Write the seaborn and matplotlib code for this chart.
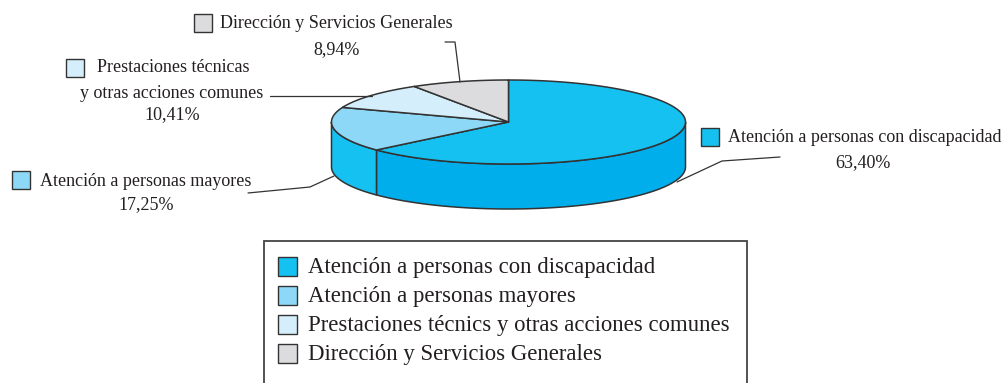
import numpy as np
import matplotlib
matplotlib.use("Agg")
import matplotlib.pyplot as plt
from matplotlib.patches import Polygon, Rectangle
import seaborn as sns

sns.set_theme(style="white")
plt.rcParams["font.family"] = ["Liberation Serif", "DejaVu Serif"]

# Budget shares (percent), clockwise from 12 o'clock
categories = [
    "Atención a personas con discapacidad",
    "Atención a personas mayores",
    "Prestaciones técnicas\ny otras acciones comunes",
    "Dirección y Servicios Generales",
]
legend_labels = [
    "Atención a personas con discapacidad",
    "Atención a personas mayores",
    "Prestaciones técnics y otras acciones comunes",
    "Dirección y Servicios Generales",
]
shares = [63.40, 17.25, 10.41, 8.94]
value_labels = ["63,40%", "17,25%", "10,41%", "8,94%"]

top_colors = ["#15C1F1", "#8DD8F6", "#D5EEFB", "#DCDCDE"]
side_colors = ["#00AEEC", "#15C1F1", "#C0E6F8", "#C4C4C6"]
edge = "#333333"
text_color = "#231F20"

fig = plt.figure(figsize=(10.07, 3.83), dpi=100)
ax = fig.add_axes([0, 0, 1, 1])
ax.set_xlim(0, 1007)
ax.set_ylim(383, 0)
ax.axis("off")

# Disc geometry (screen units)
cx, cy, rx, ry, depth = 508.5, 122.0, 177.0, 42.0, 45.0


def pt(theta, dz=0.0):
    t = np.radians(theta)
    return cx + rx * np.cos(t), cy - ry * np.sin(t) + dz


# slice angle ranges (math angles, clockwise from 90°)
bounds = []
start = 90.0
for s in shares:
    end = start - 360.0 * s / 100.0
    bounds.append((end, start))
    start = end

# side walls: only the front half (180°..360°) is visible
for (a0, a1), col in zip(bounds, side_colors):
    for shift in (0, 360, -360):
        lo, hi = max(a0 + shift, 180), min(a1 + shift, 360)
        if hi > lo:
            th = np.linspace(lo, hi, 80)
            upper = [pt(t) for t in th]
            lower = [pt(t, depth) for t in th[::-1]]
            ax.add_patch(Polygon(upper + lower, closed=True, facecolor=col,
                                 edgecolor=edge, linewidth=1.1, zorder=2))

# top faces
for (a0, a1), col in zip(bounds, top_colors):
    th = np.linspace(a0, a1, 150)
    verts = [(cx, cy)] + [pt(t) for t in th]
    ax.add_patch(Polygon(verts, closed=True, facecolor=col, edgecolor=edge,
                         linewidth=1.1, zorder=3, joinstyle="round"))

# leader lines
leaders = [
    [(780, 157), (722, 161), (677, 182)],
    [(248, 193), (310, 187), (334, 176)],
    [(270, 96), (372, 96)],
    [(445, 42), (455, 42), (460, 82)],
]
for pts_ in leaders:
    xs, ys = zip(*pts_)
    ax.plot(xs, ys, color=edge, linewidth=0.9, zorder=4)

# callout labels with a colour square
lab_fs = 13
callouts = [
    # (icon x, icon y, text x, text y, value x, value y)
    (701, 128, 728, 137, 863, 163),
    (12, 171, 40, 181, 146, 205),
    (66, 59, 97, 68, 172, 115),
    (194, 14, 220, 24, 337, 50),
]
for i, (ix, iy, tx, ty, vx, vy) in enumerate(callouts):
    ax.add_patch(Rectangle((ix, iy), 18, 18, facecolor=top_colors[i],
                           edgecolor=edge, linewidth=1.0, zorder=5))
    if "\n" in categories[i]:
        first, second = categories[i].split("\n")
        ax.text(tx, ty, first, fontsize=lab_fs, ha="left", va="center",
                color=text_color)
        ax.text(172, 93, second, fontsize=lab_fs, ha="center", va="center",
                color=text_color)
    else:
        ax.text(tx, ty, categories[i], fontsize=lab_fs, ha="left",
                va="center", color=text_color)
    ax.text(vx, vy, value_labels[i], fontsize=lab_fs, ha="center",
            va="center", color=text_color)

# legend box
ax.add_patch(Rectangle((264, 241), 483, 160, facecolor="white",
                       edgecolor="#444444", linewidth=1.3, zorder=1))
leg_fs = 16.4
for i, lab in enumerate(legend_labels):
    y = 266 + i * 29
    ax.add_patch(Rectangle((278, y - 9.5), 19, 19, facecolor=top_colors[i],
                           edgecolor=edge, linewidth=1.0, zorder=5))
    ax.text(308, y + 1.5, lab, fontsize=leg_fs, ha="left", va="center",
            color=text_color)

fig.savefig("out.png", dpi=100)
